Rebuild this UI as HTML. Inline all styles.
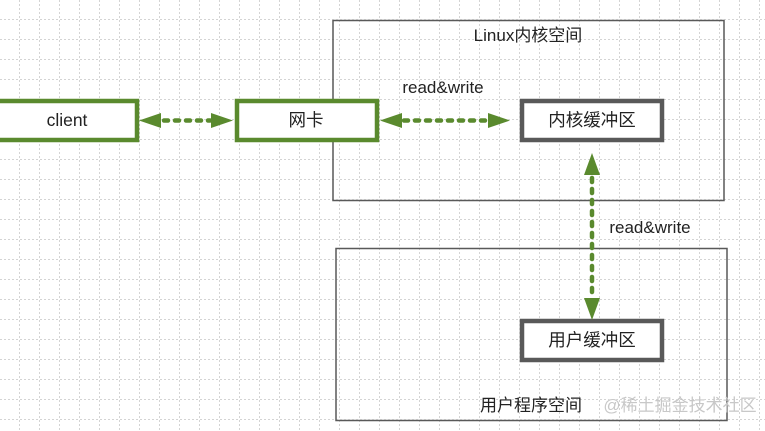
<!DOCTYPE html>
<html><head><meta charset="utf-8"><style>
html,body{margin:0;padding:0;background:#fff}
body{width:765px;height:431px;overflow:hidden;position:relative;font-family:"Liberation Sans","Noto Sans CJK SC",sans-serif}
</style></head><body>
<svg width="765" height="431" viewBox="0 0 765 431" xmlns="http://www.w3.org/2000/svg" style="position:absolute;left:0;top:0">
<defs>
<pattern id="g" width="20" height="20" patternUnits="userSpaceOnUse">
<path d="M20 0V20M0 20H20" stroke="#aaa" stroke-width="1" stroke-dasharray="2 2" fill="none"/>
</pattern>
</defs>
<rect width="765" height="431" fill="url(#g)"/>
<rect x="333" y="20.5" width="391" height="180" fill="none" stroke="#595959" stroke-width="1.5"/>
<rect x="336" y="248.5" width="391" height="172" fill="none" stroke="#595959" stroke-width="1.5"/>
<g font-size="17" fill="#222">
<text x="528" y="41" text-anchor="middle">Linux内核空间</text>
<text x="443" y="93" text-anchor="middle">read&amp;write</text>
<text x="650" y="233" text-anchor="middle">read&amp;write</text>
<text x="531" y="411" text-anchor="middle">用户程序空间</text>
</g>
<text x="680" y="411" text-anchor="middle" font-size="17" fill="#c8c8c8">@稀土掘金技术社区</text>
<g fill="#fff" stroke-width="4.5">
<rect x="-5" y="101" width="142" height="39" stroke="#5a8a2e"/>
<rect x="237" y="101" width="140" height="39" stroke="#5a8a2e"/>
<rect x="522" y="101" width="140" height="39" stroke="#595959"/>
<rect x="522" y="321" width="140" height="39" stroke="#595959"/>
</g>
<g font-size="17.5" fill="#222" text-anchor="middle">
<text x="67" y="126">client</text>
<text x="306" y="126">网卡</text>
<text x="592" y="126">内核缓冲区</text>
<text x="592" y="346">用户缓冲区</text>
</g>
<g stroke="#5a8a2e" stroke-width="4.5" stroke-dasharray="4 7" stroke-linecap="round">
<line x1="164" y1="120.5" x2="210" y2="120.5"/>
<line x1="404" y1="120.5" x2="488" y2="120.5"/>
<line x1="592" y1="178" x2="592" y2="298"/>
</g>
<g fill="#5a8a2e">
<polygon points="139,120.5 161,113 161,128"/>
<polygon points="233,120.5 211,113 211,128"/>
<polygon points="380,120.5 402,113 402,128"/>
<polygon points="510,120.5 488,113 488,128"/>
<polygon points="592,153 584,175 600,175"/>
<polygon points="592,320 584,298 600,298"/>
</g>
</svg>
</body></html>
